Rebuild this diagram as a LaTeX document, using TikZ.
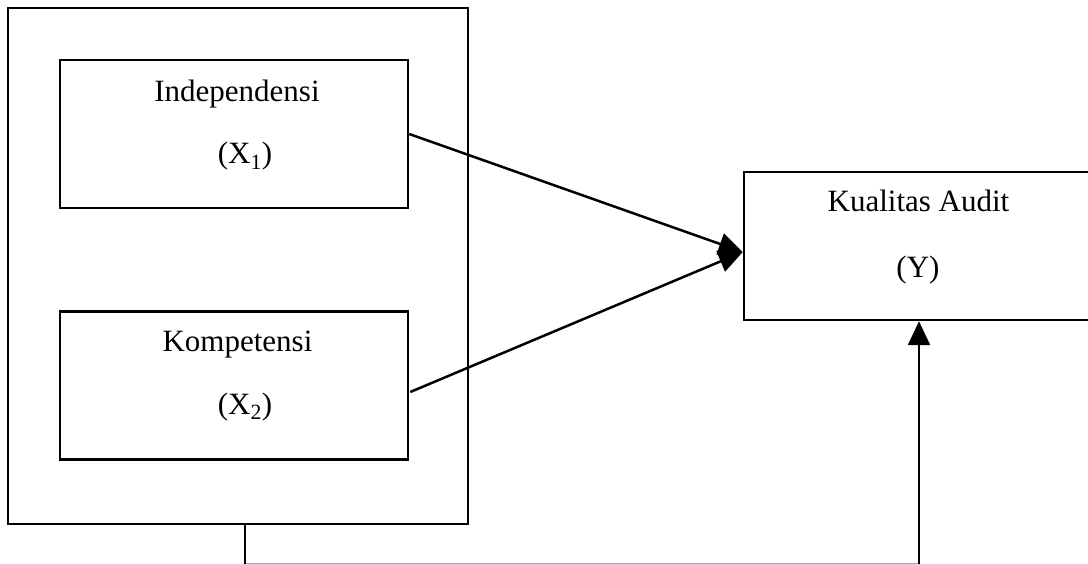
\documentclass[tikz,border=0pt]{standalone}
\usepackage{fontspec}
\setmainfont{Liberation Serif}
\usetikzlibrary{arrows.meta,calc}
\begin{document}
\begin{tikzpicture}[x=1pt,y=-1pt,
  box/.style={draw,line width=2.5pt,minimum width=348pt,minimum height=148pt,inner sep=0pt},
  lbl/.style={anchor=base,inner sep=0pt,font=\fontsize{31}{36}\selectfont},
  link/.style={line width=2.5pt,-{Triangle[length=24pt,width=22pt]}},
  plain/.style={line width=2.5pt}]
\useasboundingbox (0,0) rectangle (1088,564);
\node[draw,line width=2.5pt,minimum width=460pt,minimum height=516pt,inner sep=0pt] (outer) at (238,266) {};
\node[box] (x1) at (234,134) {};
\node[box] (x2) at (234,385.5) {};
\node[box] (y) at (918,246) {};
\node[lbl] (t1) at (237,102) {Independensi};
\node[lbl] (t1b) at (245,164) {(X\textsubscript{1})};
\node[lbl] (t2) at (237.5,352) {Kompetensi};
\node[lbl] (t2b) at (245,414) {(X\textsubscript{2})};
\node[lbl] (t3) at (918.5,212) {Kualitas Audit};
\node[lbl] (t3b) at (918,278) {(Y)};
\coordinate (tip) at ($(y.west)+(0,6)$);
\coordinate (s2) at ($(x2.east)+(1,6.5)$);
\coordinate (b1) at ($(outer.south)+(7,0)$);
\coordinate (b2) at (919,563.8);
\draw[link] (x1.east) -- (tip);
\draw[link] (s2) -- (tip);
\draw[plain,draw=black!35,line width=1.5pt] (b1 |- b2) -- (b2);
\draw[plain] (b1) -- (b1 |- b2);
\draw[link] (b2) -- (b2 |- y.south);
\end{tikzpicture}
\end{document}
